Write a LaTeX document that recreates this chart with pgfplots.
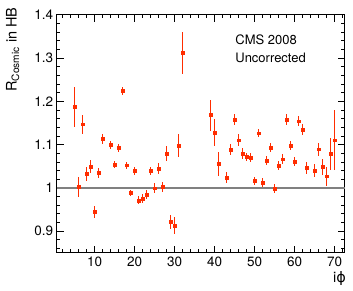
\documentclass[border=0pt]{standalone}
\usepackage{fontspec}
\setmainfont{TeX Gyre Heros}
\newfontfamily\djv{DejaVu Sans}
\usepackage{pgfplots}
\usepackage{pgfplotstable}
\pgfplotsset{compat=1.18}
\definecolor{cmsred}{RGB}{255,45,0}
\pgfplotstableread{
x y e
5 1.187 0.046
6 1.002 0.024
7 1.147 0.022
8 1.032 0.017
9 1.049 0.015
10 0.944 0.013
11 1.034 0.011
12 1.113 0.012
14 1.099 0.009
15 1.054 0.009
16 1.092 0.009
17 1.224 0.010
18 1.052 0.008
19 0.988 0.007
20 1.039 0.009
21 0.971 0.009
22 0.975 0.010
23 0.984 0.010
24 1.039 0.010
25 0.999 0.011
26 1.045 0.012
27 1.002 0.012
28 1.079 0.018
29 0.921 0.017
30 0.913 0.019
31 1.098 0.026
32 1.312 0.048
39 1.168 0.036
40 1.128 0.031
41 1.055 0.027
43 1.023 0.013
44 1.088 0.013
45 1.158 0.012
46 1.110 0.014
47 1.079 0.012
48 1.071 0.010
49 1.070 0.010
50 1.016 0.010
51 1.126 0.009
52 1.012 0.011
53 1.063 0.011
54 1.093 0.011
55 0.998 0.010
56 1.051 0.011
57 1.066 0.011
58 1.158 0.012
59 1.098 0.011
60 1.061 0.011
61 1.154 0.012
62 1.135 0.012
63 1.046 0.013
65 1.039 0.015
66 1.089 0.015
67 1.048 0.018
68 1.027 0.022
69 1.079 0.037
70 1.110 0.069
}\datatable
\begin{document}
\begin{tikzpicture}
\begin{axis}[name=ax,
  scale only axis, width=288pt, height=238pt,
  xmin=0.5, xmax=72.5, ymin=0.85, ymax=1.4,
  xtick={10,20,...,70}, minor xtick={2,4,...,72},
  ytick={0.9,1.0,1.1,1.2,1.3,1.4},
  yticklabels={0.9,1,1.1,1.2,1.3,1.4},
  minor ytick={0.86,0.88,...,1.40},
  tick align=inside, major tick length=7pt, minor tick length=3.5pt,
  xtick pos=both, ytick pos=both,
  xticklabel pos=lower, yticklabel pos=left,
  axis line style={line width=0.8pt},
  every tick/.style={black, line width=0.6pt},
  tick label style={font=\fontsize{13.5}{15}\selectfont},
  /pgf/number format/assume math mode=true,
  yticklabel style={xshift=0pt},
  xticklabel style={yshift=-1pt},
  clip=false,
]
\addplot[black!50, line width=1.6pt, forget plot] coordinates {(0.5,1) (72.5,1)};
\addplot[only marks, mark=square*, mark size=1.4pt, color=cmsred,
  error bars/.cd, y dir=both, y explicit,
  error bar style={line width=1pt, cmsred}, error mark=none]
  table[x=x, y=y, y error=e] {\datatable};
\node[anchor=base west, font=\fontsize{13}{15}\selectfont] at (axis cs:44.3,1.330) {CMS 2008};
\node[anchor=base west, font=\fontsize{13}{15}\selectfont] at (axis cs:44.3,1.2906) {Uncorrected};
\end{axis}
\node[rotate=90, anchor=east, font=\fontsize{14.5}{16}\selectfont, inner sep=0pt] at ([xshift=-44pt, yshift=7.5pt]ax.north west) {R\textsubscript{Cosmic} in HB};
\node[anchor=north east, font=\fontsize{14.5}{16}\selectfont, inner sep=0pt] at ([xshift=1.5pt, yshift=-19pt]ax.south east) {i{\djv ϕ}};
\pgfresetboundingbox
\path[use as bounding box] ([xshift=-56.7pt, yshift=-38.3pt]ax.south west) rectangle ([xshift=8.3pt, yshift=14.7pt]ax.north east);
\end{tikzpicture}
\end{document}
